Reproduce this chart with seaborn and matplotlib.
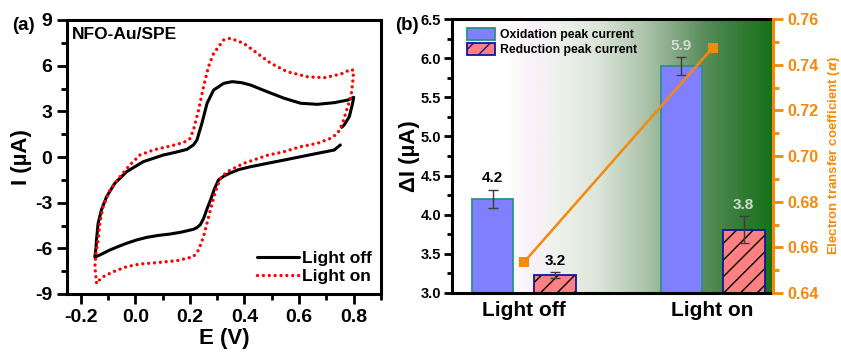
import numpy as np
import pandas as pd
import matplotlib
matplotlib.use("Agg")
import matplotlib.pyplot as plt
import seaborn as sns
from matplotlib.colors import LinearSegmentedColormap
from matplotlib.patches import Patch, Rectangle
from matplotlib.ticker import MultipleLocator, FormatStrFormatter

# ---------------- (a) cyclic voltammograms ----------------
# Light off: cathodic branch (0.75 V -> -0.15 V) then anodic branch back to 0.8 V
E_off = [0.751, 0.729, 0.667, 0.606, 0.545, 0.483, 0.422, 0.380, 0.348, 0.325,
         0.305, 0.290, 0.276, 0.263, 0.250, 0.238, 0.225, 0.213, 0.170, 0.128,
         0.085, 0.042, 0.005, -0.032, -0.065, -0.093, -0.120, -0.148,
         -0.144, -0.142, -0.136, -0.124, -0.105, -0.075, -0.032, 0.029, 0.103,
         0.150, 0.189, 0.213, 0.226, 0.244, 0.263, 0.287, 0.324, 0.355, 0.390,
         0.422, 0.483, 0.545, 0.606, 0.667, 0.729, 0.778, 0.800, 0.796, 0.784,
         0.765, 0.756]
I_off = [0.79, 0.46, 0.24, 0.02, -0.20, -0.42, -0.64, -0.82, -1.05, -1.25,
         -1.50, -2.10, -2.80, -3.40, -4.05, -4.45, -4.65, -4.75, -4.93, -5.06,
         -5.15, -5.28, -5.45, -5.67, -5.90, -6.11, -6.35, -6.59,
         -6.00, -5.45, -4.36, -3.48, -2.61, -1.73, -0.97, -0.31, 0.13,
         0.32, 0.50, 0.79, 1.12, 2.21, 3.53, 4.40, 4.84, 4.95, 4.88,
         4.73, 4.29, 3.86, 3.53, 3.46, 3.57, 3.74, 3.92, 3.53, 2.65,
         2.10, 1.95]

# Light on: anodic branch from -0.15 V, reverse at 0.8 V, cathodic branch back
E_on = [-0.142, -0.148, -0.144, -0.136, -0.130, -0.118, -0.093, -0.056, -0.020,
        0.017, 0.066, 0.128, 0.177, 0.200, 0.213, 0.232, 0.250, 0.268, 0.287,
        0.324, 0.348, 0.397, 0.447, 0.496, 0.557, 0.631, 0.692, 0.753, 0.790,
        0.800, 0.796, 0.790, 0.778, 0.759, 0.741, 0.716, 0.667, 0.606, 0.545,
        0.483, 0.397, 0.336, 0.312, 0.293, 0.272, 0.250, 0.232, 0.213, 0.152,
        0.079, 0.017, -0.032, -0.081, -0.118, -0.142]
I_on = [-8.25, -7.21, -6.33, -5.45, -4.36, -3.27, -2.17, -1.30, -0.53,
        0.13, 0.46, 0.72, 0.95, 1.20, 1.77, 3.09, 4.62, 5.93, 6.81,
        7.69, 7.80, 7.47, 6.81, 6.16, 5.60, 5.27, 5.21, 5.45, 5.76,
        5.67, 4.84, 3.96, 3.30, 2.21, 1.55, 1.23, 0.90, 0.68, 0.35,
        0.11, -0.42, -0.97, -1.40, -2.30, -3.70, -5.24, -6.11, -6.55, -6.81,
        -6.94, -7.03, -7.21, -7.54, -7.87, -8.25]

# ---------------- (b) peak currents and transfer coefficient ----------------
conditions = ["Light off", "Light on"]
peak_kinds = ["Oxidation peak current", "Reduction peak current"]
ox_current = [4.20, 5.90]
ox_err = [0.12, 0.11]
red_current = [3.23, 3.81]
red_err = [0.04, 0.17]
alpha_coef = [0.6534, 0.7474]

# ---------------- style ----------------
sns.set_style("ticks")
plt.rcParams.update({
    "font.family": ["Liberation Sans", "DejaVu Sans"],
    "font.weight": "bold",
    "axes.labelweight": "bold",
    "axes.unicode_minus": False,
    "axes.edgecolor": "black",
    "axes.labelcolor": "black",
    "text.color": "black",
    "xtick.color": "black",
    "ytick.color": "black",
    "xtick.direction": "out",
    "ytick.direction": "out",
})

ORANGE = "#f5890a"
OX_FILL, OX_EDGE = "#8080ff", "#2a8f8f"
RED_FILL, RED_EDGE = "#ff8080", "#1414a0"

fig = plt.figure(figsize=(8.41, 3.52), dpi=100)
ax_a = fig.add_axes([67 / 841, 58 / 352, 314 / 841, 274 / 352])
ax_b = fig.add_axes([452 / 841, 59 / 352, 321 / 841, 274 / 352])

# ---------------- panel (a) ----------------
sns.lineplot(x=E_off, y=I_off, sort=False, estimator=None, ax=ax_a,
             color="black", linewidth=2.2, label="Light off")
sns.lineplot(x=E_on, y=I_on, sort=False, estimator=None, ax=ax_a,
             color="#ff0000", linewidth=2.4, linestyle=(0, (0.01, 1.75)),
             dash_capstyle="round", label="Light on")
ax_a.set_xlim(-0.25, 0.9)
ax_a.set_ylim(-9, 9)
ax_a.xaxis.set_major_locator(MultipleLocator(0.2))
ax_a.xaxis.set_minor_locator(MultipleLocator(0.1))
ax_a.yaxis.set_major_locator(MultipleLocator(3))
ax_a.yaxis.set_minor_locator(MultipleLocator(1.5))
ax_a.xaxis.set_major_formatter(FormatStrFormatter("%.1f"))
ax_a.tick_params(which="major", length=7, width=2, labelsize=14)
ax_a.tick_params(which="minor", length=4, width=2)
for sp in ax_a.spines.values():
    sp.set_linewidth(2.2)
    sp.set_visible(True)
ax_a.set_xlabel("E (V)", fontsize=16, labelpad=2)
ax_a.set_ylabel("I (µA)", fontsize=16, labelpad=2)
ax_a.text(0.016, 0.975, "NFO-Au/SPE", transform=ax_a.transAxes,
          ha="left", va="top", fontsize=12.5, fontweight="bold")
ax_a.legend(loc="lower right", frameon=False, fontsize=12.5,
            handlelength=2.4, handletextpad=0.15, labelspacing=0.2,
            borderaxespad=0.15)

# ---------------- panel (b) ----------------
df = pd.DataFrame({
    "condition": conditions * 2,
    "kind": [peak_kinds[0]] * len(conditions) + [peak_kinds[1]] * len(conditions),
    "current": ox_current + red_current,
})
sns.barplot(data=df, x="condition", y="current", hue="kind",
            order=conditions, hue_order=peak_kinds,
            palette={peak_kinds[0]: OX_FILL, peak_kinds[1]: RED_FILL},
            saturation=1, width=0.66, gap=0.33, errorbar=None,
            legend=False, ax=ax_b, zorder=2)

XLIM_B = (-0.38, 1.32)
YLIM_B = (3.0, 6.5)

# white -> faint lilac -> green background
grad = LinearSegmentedColormap.from_list("bg", [
    (0.00, "#ffffff"), (0.17, "#ffffff"), (0.25, "#f9f1f9"),
    (0.33, "#eef1ec"), (0.45, "#dde6da"), (0.58, "#b5c9b3"),
    (0.66, "#94b394"), (0.78, "#5b8f5e"), (0.86, "#3f8142"),
    (1.00, "#167216")])
ax_b.imshow(np.linspace(0, 1, 600)[None, :], cmap=grad, aspect="auto",
            extent=(*XLIM_B, *YLIM_B), zorder=0, interpolation="bilinear")

series = [(ox_current, ox_err), (red_current, red_err)]
label_colors = ["black", "#d6d9d6"]
for k, (container, (vals, errs)) in enumerate(zip(ax_b.containers, series)):
    xs = []
    for p in container:
        xs.append(p.get_x() + p.get_width() / 2)
        if k == 0:
            p.set_edgecolor(OX_EDGE)
            p.set_linewidth(1.3)
        else:
            # black hatch inside, navy outline drawn on top
            p.set_hatch("//")
            p.set_edgecolor("black")
            p.set_linewidth(0)
            ax_b.add_patch(Rectangle(p.get_xy(), p.get_width(), p.get_height(),
                                     fill=False, edgecolor=RED_EDGE,
                                     linewidth=1.3, zorder=2.5))
    ax_b.errorbar(xs, vals, yerr=errs, fmt="none", ecolor="#3c3c3c",
                  elinewidth=1.0, capsize=3.6, capthick=1.0, zorder=3)
    for i, (x, v, e) in enumerate(zip(xs, vals, errs)):
        ax_b.annotate(f"{v:.1f}", (x, v + e), xytext=(0, 3),
                      textcoords="offset points", ha="center", va="bottom",
                      fontsize=11, fontweight="bold", color=label_colors[i])

ax_b.set_ylim(*YLIM_B)
ax_b.yaxis.set_major_locator(MultipleLocator(0.5))
ax_b.yaxis.set_minor_locator(MultipleLocator(0.25))
ax_b.yaxis.set_major_formatter(FormatStrFormatter("%.1f"))
ax_b.tick_params(axis="y", which="major", length=6, width=2, labelsize=10.5,
                 pad=2)
ax_b.tick_params(axis="y", which="minor", length=3.5, width=2)
ax_b.tick_params(axis="x", length=0, labelsize=15, pad=6)
ax_b.set_xlabel("")
ax_b.set_ylabel("ΔI (µA)", fontsize=16, labelpad=0)
for name in ("left", "top", "bottom"):
    ax_b.spines[name].set_linewidth(2.2)
    ax_b.spines[name].set_visible(True)
ax_b.spines["right"].set_visible(False)

handles = [Patch(facecolor=OX_FILL, edgecolor=OX_EDGE, linewidth=1.3),
           Patch(facecolor=RED_FILL, edgecolor=RED_EDGE, linewidth=1.3, hatch="//")]
ax_b.legend(handles, peak_kinds, loc="upper left", bbox_to_anchor=(0.02, 1.0),
            frameon=False, prop={"size": 8.8, "weight": "bold"},
            handlelength=2.3, handleheight=1.15, handletextpad=0.4,
            labelspacing=0.2, borderaxespad=0.3, borderpad=0.4)

# transfer coefficient on the right axis
ax_r = ax_b.twinx()
sns.lineplot(x=np.arange(len(conditions)), y=alpha_coef, ax=ax_r, color=ORANGE,
             linewidth=1.8, marker="s", markersize=7, markeredgewidth=0,
             zorder=4)
ax_r.set_ylim(0.64, 0.76)
ax_r.yaxis.set_major_locator(MultipleLocator(0.02))
ax_r.yaxis.set_minor_locator(MultipleLocator(0.01))
ax_r.yaxis.set_major_formatter(FormatStrFormatter("%.2f"))
ax_r.tick_params(axis="y", which="major", length=7, width=2, colors=ORANGE,
                 labelsize=11.5)
ax_r.tick_params(axis="y", which="minor", length=4, width=2, colors=ORANGE)
for name in ("left", "top", "bottom"):
    ax_r.spines[name].set_visible(False)
ax_r.spines["right"].set_visible(True)
ax_r.spines["right"].set_color(ORANGE)
ax_r.spines["right"].set_linewidth(2.2)
ax_r.set_ylabel("Electron transfer coefficient ($\\alpha$)", color=ORANGE,
                fontsize=9.5, labelpad=5)
ax_b.set_xlim(*XLIM_B)
ax_r.set_xlim(*XLIM_B)

fig.text(12 / 841, 1 - 25 / 352, "(a)", ha="left", va="center",
         fontsize=13.5, fontweight="bold")
fig.text(395 / 841, 1 - 25 / 352, "(b)", ha="left", va="center",
         fontsize=13.5, fontweight="bold")

fig.savefig("out.png", dpi=100)
